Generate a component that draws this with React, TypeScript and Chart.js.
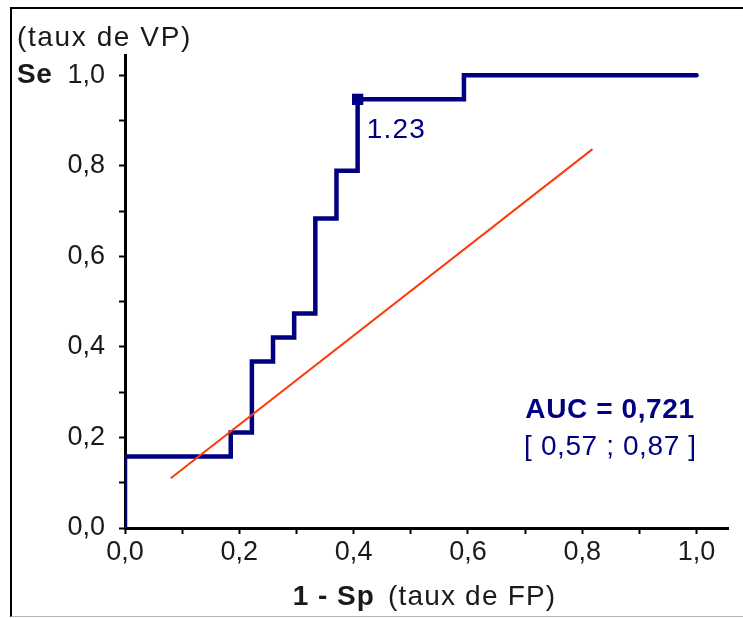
import React, { useEffect, useRef } from "react";
import { Chart, registerables } from "chart.js";

Chart.register(...registerables);

// ROC curve vertices: false-positive rate (1 - Sp) and sensitivity (Se)
const fpRate = [0, 0, 0.185, 0.222, 0.259, 0.296, 0.333, 0.37, 0.407, 0.593, 1.0];
const seRate = [0, 0.158, 0.211, 0.368, 0.421, 0.474, 0.684, 0.789, 0.947, 1.0, 1.0];

// reference (chance) line endpoints
const chanceFp = [0.08, 0.818];
const chanceSe = [0.11, 0.837];

// selected threshold on the curve
const cutoffFp = [0.407];
const cutoffSe = [0.947];
const cutoffLabel = "1.23";

const aucLabel = "AUC = 0,721";
const ciLabel = "[ 0,57 ; 0,87 ]";

const tickValues = [0, 0.1, 0.2, 0.3, 0.4, 0.5, 0.6, 0.7, 0.8, 0.9, 1.0];
const labelledTicks = [0, 0.2, 0.4, 0.6, 0.8, 1.0];

const yTitleTop = "(taux de VP)";
const yTitleShort = "Se";
const xTitleBold = "1 - Sp";
const xTitleRest = "(taux de FP)";

const FONT = "'Liberation Sans', Arial, sans-serif";
const NAVY = "#000080";
const TEXT = "#1a1a1a";
const FONT_SIZE = 28;
const TICK_SIZE = 27;

const fmt = (v: number) =>
  labelledTicks.some((t) => Math.abs(t - v) < 1e-6) ? v.toFixed(1).replace(".", ",") : "";

function spaced(ctx: any, px: number) {
  if ("letterSpacing" in ctx) ctx.letterSpacing = `${px}px`;
}

const annotations = {
  id: "rocText",
  afterDraw(chart: any) {
    const { ctx, scales } = chart;
    const x = scales.x;
    const y = scales.y;
    ctx.save();
    ctx.textBaseline = "middle";

    // y-axis titles
    ctx.fillStyle = TEXT;
    ctx.textAlign = "left";
    ctx.font = `${FONT_SIZE}px ${FONT}`;
    spaced(ctx, 1.6);
    ctx.fillText(yTitleTop, 17, 38);
    ctx.font = `bold ${FONT_SIZE}px ${FONT}`;
    spaced(ctx, 0.5);
    ctx.fillText(yTitleShort, 17, y.getPixelForValue(1.0));

    // x-axis title: bold part + regular part, centred under the plot
    ctx.font = `bold ${FONT_SIZE}px ${FONT}`;
    spaced(ctx, 1);
    const wBold = ctx.measureText(xTitleBold).width;
    ctx.font = `${FONT_SIZE}px ${FONT}`;
    spaced(ctx, 1.2);
    const wRest = ctx.measureText(xTitleRest).width;
    const gap = 13;
    const total = wBold + gap + wRest;
    const cx = (chart.chartArea.left + chart.chartArea.right) / 2 - 2;
    const ty = 597;
    const sx = cx - total / 2;
    ctx.font = `bold ${FONT_SIZE}px ${FONT}`;
    spaced(ctx, 1);
    ctx.fillText(xTitleBold, sx, ty);
    ctx.font = `${FONT_SIZE}px ${FONT}`;
    spaced(ctx, 1.2);
    ctx.fillText(xTitleRest, sx + wBold + gap, ty);

    // threshold label
    ctx.fillStyle = NAVY;
    ctx.font = `${FONT_SIZE}px ${FONT}`;
    spaced(ctx, 1.2);
    ctx.fillText(
      cutoffLabel,
      x.getPixelForValue(cutoffFp[0]) + 9,
      y.getPixelForValue(cutoffSe[0]) + 31
    );

    // AUC with confidence interval
    ctx.textAlign = "right";
    const rx = x.getPixelForValue(1.0) - 2;
    ctx.font = `bold ${FONT_SIZE}px ${FONT}`;
    spaced(ctx, 0.6);
    ctx.fillText(aucLabel, rx, y.getPixelForValue(0.261));
    ctx.font = `${FONT_SIZE}px ${FONT}`;
    spaced(ctx, 0.6);
    ctx.fillText(ciLabel, rx + 2, y.getPixelForValue(0.179));
    ctx.restore();
  },
};

function axisOptions(max: number, isX: boolean) {
  return {
    type: "linear" as const,
    min: 0,
    max,
    afterBuildTicks: (s: any) => {
      s.ticks = tickValues.map((v) => ({ value: v }));
    },
    afterFit: (s: any) => {
      if (isX) s.height = 90;
      else s.width = 125;
    },
    ticks: {
      autoSkip: false,
      maxRotation: 0,
      includeBounds: false,
      padding: isX ? 2 : 14,
      color: TEXT,
      font: { family: FONT, size: TICK_SIZE },
      callback: (v: any) => fmt(Number(v)),
    },
    grid: {
      drawOnChartArea: false,
      drawTicks: true,
      tickLength: 6,
      tickWidth: 2,
      tickColor: "#000",
    },
    border: { display: true, color: "#000", width: 3 },
  };
}

export default function App() {
  const canvasRef = useRef<HTMLCanvasElement | null>(null);

  useEffect(() => {
    if (!canvasRef.current) return;
    const chart = new Chart(canvasRef.current, {
      type: "scatter",
      data: {
        datasets: [
          {
            data: chanceFp.map((v, i) => ({ x: v, y: chanceSe[i] })),
            showLine: true,
            borderColor: "#ff3a0a",
            borderWidth: 2,
            pointRadius: 0,
            order: 0,
          },
          {
            data: cutoffFp.map((v, i) => ({ x: v, y: cutoffSe[i] })),
            showLine: false,
            pointStyle: "rect",
            pointRadius: 8,
            backgroundColor: NAVY,
            borderColor: NAVY,
            borderWidth: 0,
            order: 1,
          },
          {
            data: fpRate.map((v, i) => ({ x: v, y: seRate[i] })),
            showLine: true,
            stepped: "before",
            borderColor: NAVY,
            borderWidth: 4.5,
            borderCapStyle: "round",
            borderJoinStyle: "miter",
            pointRadius: 0,
            order: 2,
          },
        ],
      },
      options: {
        responsive: false,
        animation: false,
        layout: { padding: { top: 55, right: 15, left: 0, bottom: 0 } },
        plugins: {
          legend: { display: false },
          tooltip: { enabled: false },
        },
        scales: {
          x: axisOptions(1.055, true),
          y: axisOptions(1.045, false),
        },
      } as any,
      plugins: [annotations],
    });
    return () => chart.destroy();
  }, []);

  return (
    <div style={{ position: "absolute", left: 0, top: 0, width: 743, height: 618, background: "#fff" }}>
      <div
        style={{
          position: "absolute",
          left: 10,
          top: 7,
          width: 733,
          height: 607,
          borderTop: "2px solid #000",
          borderLeft: "2px solid #000",
          borderBottom: "1px solid #b4b4b4",
        }}
      />
      <canvas
        ref={canvasRef}
        width={743}
        height={618}
        style={{ position: "absolute", left: 0, top: 0, width: 743, height: 618 }}
      />
    </div>
  );
}
